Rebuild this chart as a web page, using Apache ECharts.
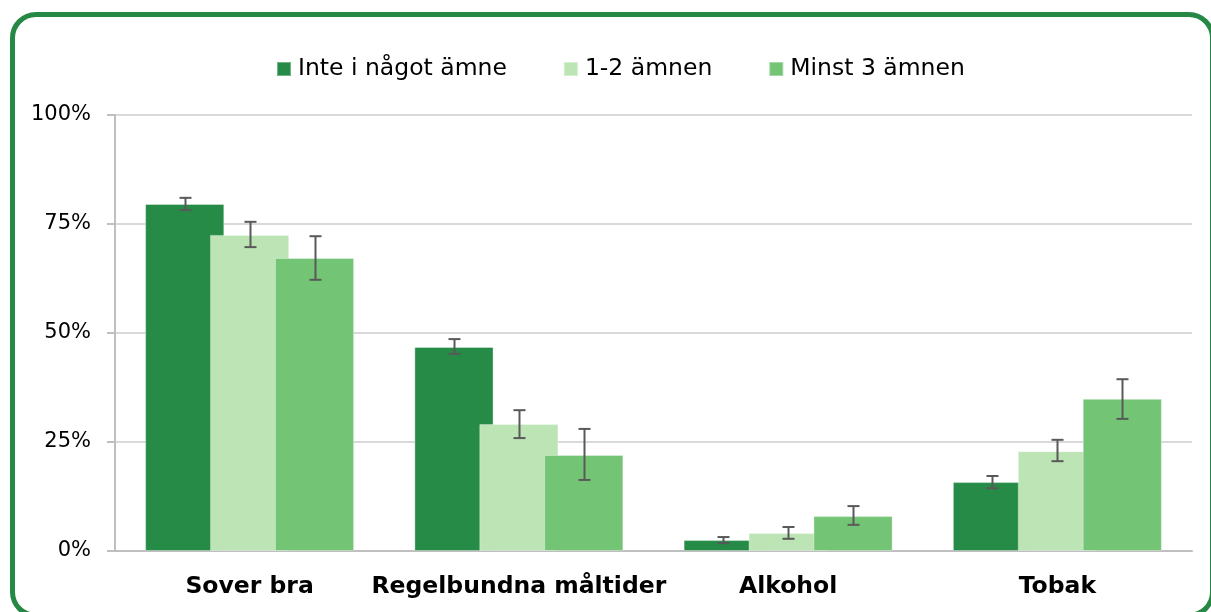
<!DOCTYPE html>
<html>
<head>
<meta charset="utf-8">
<script src="https://cdn.jsdelivr.net/npm/echarts@6/dist/echarts.min.js"></script>
<style>
  html, body { margin: 0; padding: 0; background: #fff; }
  #wrap { position: relative; width: 1211px; height: 612px; overflow: hidden; }
  #frame { position: absolute; left: 10px; top: 12px; width: 1205px; height: 606px; box-sizing: border-box;
           border: 5px solid #258845; border-radius: 26px; pointer-events: none; }
  #chart { position: absolute; left: 0; top: 0; width: 1211px; height: 612px; }
</style>
</head>
<body>
<div id="wrap">
  <div id="chart"></div>
  <div id="frame"></div>
</div>
<script>
const categories = ['Sover bra', 'Regelbundna måltider', 'Alkohol', 'Tobak'];
const seriesNames = ['Inte i något ämne', '1-2 ämnen', 'Minst 3 ämnen'];
const yTicks = [0, 25, 50, 75, 100];

const inteValues = [79.6, 46.8, 2.5, 15.8];
const inteLow    = [78.2, 45.2, 1.8, 14.4];
const inteHigh   = [81.0, 48.6, 3.2, 17.2];

const ettTvaValues = [72.5, 29.1, 4.1, 22.9];
const ettTvaLow    = [69.7, 25.9, 2.8, 20.6];
const ettTvaHigh   = [75.5, 32.3, 5.5, 25.5];

const minst3Values = [67.2, 22.0, 8.0, 34.9];
const minst3Low    = [62.2, 16.3, 6.0, 30.3];
const minst3High   = [72.2, 28.0, 10.3, 39.4];

const colors = ['#258b47', '#bce4b5', '#74c476'];
const BAR_W = 0.294, BAR_GAP = -0.18;

const values = [inteValues, ettTvaValues, minst3Values];
const lows = [inteLow, ettTvaLow, minst3Low];
const highs = [inteHigh, ettTvaHigh, minst3High];

const fontFam = '"DejaVu Sans", Verdana, sans-serif';

function errRender(idx) {
  return function (params, api) {
    const c = api.value(0);
    const lo = api.coord([c, api.value(1)]);
    const hi = api.coord([c, api.value(2)]);
    const band = api.size([1, 0])[0];
    const bw = band * BAR_W;
    const step = bw * (1 + BAR_GAP);
    const x = Math.round(lo[0] + (idx - 1) * step) + 0.5;
    const cap = 6;
    const st = { stroke: '#595959', lineWidth: 2 };
    return {
      type: 'group',
      children: [
        { type: 'line', shape: { x1: x, y1: hi[1], x2: x, y2: lo[1] }, style: st },
        { type: 'line', shape: { x1: x - cap, y1: hi[1], x2: x + cap, y2: hi[1] }, style: st },
        { type: 'line', shape: { x1: x - cap, y1: lo[1], x2: x + cap, y2: lo[1] }, style: st }
      ]
    };
  };
}

const series = [];
for (let i = 0; i < 3; i++) {
  series.push({
    name: seriesNames[i],
    type: 'bar',
    data: values[i],
    barWidth: (BAR_W * 100) + '%',
    barGap: (BAR_GAP * 100) + '%',
    itemStyle: { color: colors[i], borderColor: 'rgba(255,255,255,0.35)', borderWidth: 1 },
    z: 2 + i
  });
}
for (let i = 0; i < 3; i++) {
  series.push({
    type: 'custom',
    renderItem: errRender(i),
    data: categories.map((c, k) => [k, lows[i][k], highs[i][k]]),
    encode: { x: 0, y: [1, 2] },
    z: 10,
    silent: true
  });
}

const chart = echarts.init(document.getElementById('chart'), null, { renderer: 'canvas' });
chart.setOption({
  animation: false,
  backgroundColor: '#fff',
  legend: {
    data: seriesNames,
    left: 276,
    top: 57,
    padding: 0,
    itemWidth: 14,
    itemHeight: 14,
    itemGap: 56,
    icon: 'rect',
    textStyle: { fontFamily: fontFam, fontSize: 23.5, color: '#000', padding: [0, 0, 0, 2] }
  },
  grid: { left: 115, right: 19, top: 115, bottom: 61, containLabel: false },
  xAxis: {
    type: 'category',
    data: categories,
    axisLine: { lineStyle: { color: '#bfbfbf', width: 2 } },
    axisTick: { show: false },
    axisLabel: { interval: 0, fontFamily: fontFam, fontSize: 23.5, fontWeight: 'bold', color: '#000', margin: 24 }
  },
  yAxis: {
    type: 'value',
    min: yTicks[0],
    max: yTicks[yTicks.length - 1],
    interval: 25,
    axisLine: { show: true, lineStyle: { color: '#bfbfbf', width: 2 } },
    axisTick: { show: true, length: 8, lineStyle: { color: '#bfbfbf', width: 2 } },
    splitLine: { lineStyle: { color: '#d9d9d9', width: 2 } },
    axisLabel: { formatter: '{value}%', fontFamily: fontFam, fontSize: 21, color: '#000', margin: 24 }
  },
  series: series
});
</script>
</body>
</html>
